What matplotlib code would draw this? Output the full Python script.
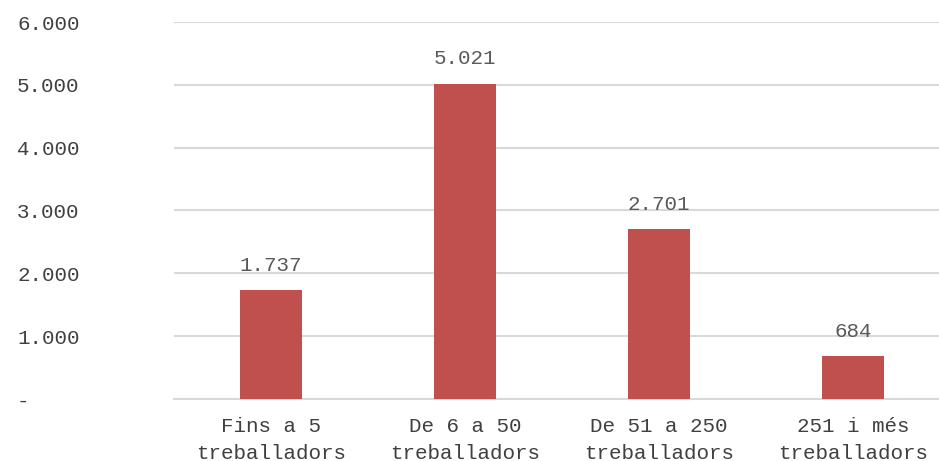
import matplotlib
matplotlib.use("Agg")
import matplotlib.pyplot as plt
from matplotlib.ticker import FuncFormatter

categories = ["Fins a 5\ntreballadors", "De 6 a 50\ntreballadors",
              "De 51 a 250\ntreballadors", "251 i més\ntreballadors"]
values = [1737, 5021, 2701, 684]
yticks = [0, 1000, 2000, 3000, 4000, 5000, 6000]

plt.rcParams['font.family'] = ['Liberation Mono', 'DejaVu Sans Mono']

def fmt(v):
    # thousands separator is a dot, zero is shown as a dash
    if v == 0:
        return "-    "
    return f"{int(v):,}".replace(",", ".")

fig = plt.figure(figsize=(9.39, 4.61), dpi=100)
ax = fig.add_axes([174 / 939, 62 / 461, (939 - 174) / 939, 377 / 461])

x = range(len(categories))
ax.bar(x, values, width=0.315, color="#C0504D", zorder=3)

for i, v in zip(x, values):
    ax.annotate(fmt(v), (i, v), xytext=(0, 11), textcoords="offset points",
                ha="center", va="bottom", fontsize=15, color="#595959")

ax.set_xlim(-0.5, 3.443)
ax.set_ylim(0, 6000)
ax.set_yticks(yticks)
ax.yaxis.set_major_formatter(FuncFormatter(lambda v, p: fmt(v)))
ax.set_xticks(list(x))
ax.set_xticklabels(categories, linespacing=1.5)
ax.tick_params(axis="y", length=0, pad=68, labelsize=15, labelcolor="#404040")
ax.tick_params(axis="x", length=0, pad=13, labelsize=15, labelcolor="#404040")
for lab in ax.get_yticklabels():
    lab.set_horizontalalignment("right")

ax.grid(axis="y", color="#D9D9D9", linewidth=1.5, zorder=0)
for s in ["top", "right", "left"]:
    ax.spines[s].set_visible(False)
ax.spines["bottom"].set_color("#D9D9D9")
ax.spines["bottom"].set_linewidth(1.5)

fig.savefig("out.png", dpi=100)
